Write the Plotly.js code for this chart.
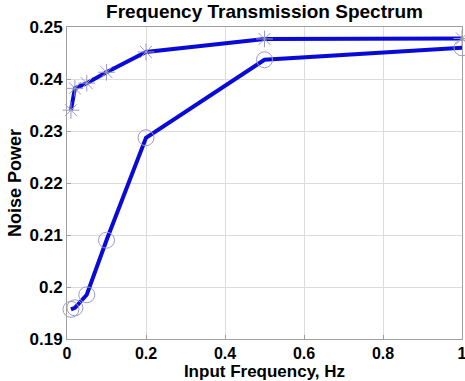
<!DOCTYPE html>
<html>
<head>
<meta charset="utf-8">
<script src="https://cdn.plot.ly/plotly-3.0.1.min.js"></script>
<style>html,body{margin:0;padding:0;background:#fff;}#chart{width:465px;height:381px;}</style>
</head>
<body>
<div id="chart"></div>
<script>
var freq = [0.01, 0.02, 0.05, 0.1, 0.2, 0.5, 1];
var starPower = [0.2340, 0.2382, 0.2392, 0.2413, 0.2452, 0.2477, 0.2478];
var circlePower = [0.1957, 0.1960, 0.1985, 0.2090, 0.2287, 0.2437, 0.2460];
var xTicks = [0, 0.2, 0.4, 0.6, 0.8, 1];
var xTickText = ['0', '0.2', '0.4', '0.6', '0.8', '1'];
var yTicks = [0.19, 0.2, 0.21, 0.22, 0.23, 0.24, 0.25];
var yTickText = ['0.19', '0.2', '0.21', '0.22', '0.23', '0.24', '0.25'];

var lineColor = '#0a0ad8';
var markColor = '#9a9ac8';

var traces = [
  {x: freq, y: starPower, mode: 'lines', line: {color: lineColor, width: 4}, hoverinfo: 'none', cliponaxis: false},
  {x: freq, y: starPower, mode: 'markers', marker: {symbol: 'asterisk-open', size: 14, line: {color: markColor, width: 1}, color: markColor}, hoverinfo: 'none', cliponaxis: false},
  {x: freq, y: circlePower, mode: 'lines', line: {color: lineColor, width: 4}, hoverinfo: 'none', cliponaxis: false},
  {x: freq, y: circlePower, mode: 'markers', marker: {symbol: 'circle-open', size: 16, line: {color: markColor, width: 1}, color: markColor}, hoverinfo: 'none', cliponaxis: false}
];

var font = {family: 'Liberation Sans, Arial, sans-serif', color: '#000', weight: 'bold'};

var layout = {
  width: 465, height: 381,
  margin: {l: 67, r: 3, t: 27, b: 42, pad: 0},
  paper_bgcolor: '#fff', plot_bgcolor: '#fff',
  showlegend: false,
  title: {text: 'Frequency Transmission Spectrum', font: Object.assign({}, font, {size: 19}), xref: 'paper', x: 0.5, xanchor: 'center', yref: 'container', y: 0.987, yanchor: 'top', pad: {t: 0, b: 0}},
  xaxis: {
    range: [0, 1], tickvals: xTicks, ticktext: xTickText,
    tickfont: Object.assign({}, font, {size: 16}),
    ticklabeloverflow: 'allow',
    showgrid: true, gridcolor: '#dcdcdc', gridwidth: 1,
    showline: true, linecolor: '#a0a0a0', linewidth: 1, mirror: true,
    zeroline: false, ticks: 'inside', ticklen: 4, tickcolor: '#a0a0a0',
    title: {text: 'Input Frequency, Hz', font: Object.assign({}, font, {size: 17}), standoff: 4}
  },
  yaxis: {
    range: [0.19, 0.25], tickvals: yTicks, ticktext: yTickText,
    tickfont: Object.assign({}, font, {size: 17}),
    showgrid: true, gridcolor: '#dcdcdc', gridwidth: 1,
    showline: true, linecolor: '#a0a0a0', linewidth: 1, mirror: true,
    zeroline: false, ticks: 'inside', ticklen: 4, tickcolor: '#a0a0a0',
    title: {text: 'Noise Power', font: Object.assign({}, font, {size: 18}), standoff: 3}
  }
};

Plotly.newPlot('chart', traces, layout, {displayModeBar: false, staticPlot: true});
</script>
</body>
</html>
